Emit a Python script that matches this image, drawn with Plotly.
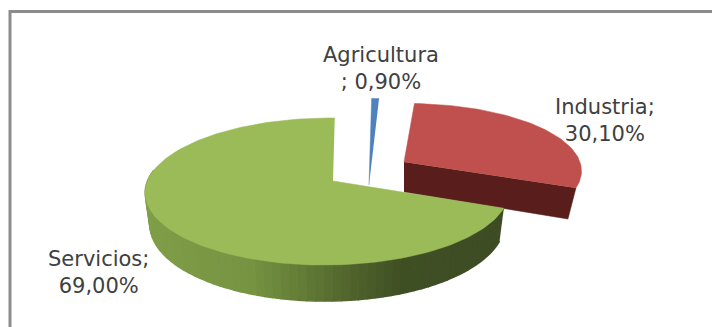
import numpy as np
import plotly.graph_objects as go

categories = ["Agricultura", "Industria", "Servicios"]
values = [0.9, 30.1, 69.0]
label_texts = ["Agricultura<br>; 0,90%", "Industria;<br>30,10%", "Servicios;<br>69,00%"]

W, H = 712, 327
top_colors = ["#4F81BD", "#C0504D", "#9BBB59"]
red_face = "#591E1C"
# per-slice projection of the tilted disc: apex x, y, a, b, k, j, shear
proj = [
    dict(cx=369, cy=185, a=150, b=99, k=0.143, j=0, s=3),
    dict(cx=404, cy=162, a=176, b=67, k=0.143, j=0, s=2),
    dict(cx=333, cy=181, a=180, b=72, k=0.143, j=0.03, s=2),
]
label_pos = [(381, 68), (605, 120), (98, 272)]
wall_stops_x = [150, 250, 300, 340, 400, 507]
wall_stops_rgb = [(128, 158, 72), (118, 148, 66), (100, 125, 55), (85, 105, 47), (64, 80, 36), (62, 76, 36)]


def pt(theta, p):
    u, v = np.sin(theta), np.cos(theta)
    w = 1 + p["k"] * v + p["j"] * u
    return p["cx"] + (p["a"] * u + p["s"] * v) / w, p["cy"] - p["b"] * v / w


def wall(theta, p):
    x, y = pt(theta, p)
    return p["cx"] + (x - p["cx"]) * 0.975, y + 31 - 5 * np.cos(theta)


def poly(xs, ys, color, lw=0.5):
    return go.Scatter(x=list(xs), y=list(ys), mode="lines", fill="toself", fillcolor=color,
                      line=dict(color=color, width=lw), hoverinfo="skip", showlegend=False)


edges = np.cumsum([0] + values) / sum(values) * 2 * np.pi
fig = go.Figure()

# Industria: cut face then top
p = proj[1]
t0, t1 = edges[1], edges[2]
ex, ey = pt(t1, p)
fig.add_trace(poly([p["cx"], ex, ex - 8, p["cx"]], [p["cy"], ey, ey + 31, p["cy"] + 30], red_face))
th = np.linspace(t0, t1, 60)
xs, ys = pt(th, p)
fig.add_trace(poly([p["cx"], *xs], [p["cy"], *ys], top_colors[1]))

# Agricultura
p = proj[0]
th = np.linspace(edges[0], edges[1], 6)
xs, ys = pt(th, p)
fig.add_trace(poly([p["cx"], *xs], [p["cy"], *ys], top_colors[0]))

# Servicios: graded wall then top
p = proj[2]
wall_th = np.linspace(edges[2], 1.5 * np.pi + 0.15, 70)
for a, b in zip(wall_th[:-1], wall_th[1:]):
    ax, ay = pt(a, p)
    bx, by = pt(b, p)
    cx_, cy_ = wall(b, p)
    dx_, dy_ = wall(a, p)
    mid = (ax + bx) / 2
    rgb = [np.interp(mid, wall_stops_x, [c[i] for c in wall_stops_rgb]) for i in range(3)]
    col = "rgb(%d,%d,%d)" % tuple(rgb)
    fig.add_trace(poly([ax, bx, cx_, dx_], [ay, by, cy_, dy_], col, lw=1.5))
th = np.linspace(edges[2], edges[3], 160)
xs, ys = pt(th, p)
fig.add_trace(poly([p["cx"], *xs], [p["cy"], *ys], top_colors[2]))

for txt, (lx, ly) in zip(label_texts, label_pos):
    fig.add_annotation(x=lx, y=ly, xref="x", yref="y", text=txt, showarrow=False, align="center",
                       font=dict(family="DejaVu Sans", size=21, color="#404040"))

# chart frame
frame = dict(color="#8c8c8c", width=3)
fig.add_shape(type="line", x0=10, x1=712, y0=11.5, y1=11.5, xref="x", yref="y", line=frame)
fig.add_shape(type="line", x0=10, x1=10, y0=10, y1=327, xref="x", yref="y", line=frame)

fig.update_layout(width=W, height=H, margin=dict(l=0, r=0, t=0, b=0), paper_bgcolor="white",
                  plot_bgcolor="white", showlegend=False,
                  xaxis=dict(range=[0, W], visible=False, fixedrange=True),
                  yaxis=dict(range=[H, 0], visible=False, fixedrange=True))
fig.write_html("out.html", config={"displayModeBar": False},
               post_script="document.body.style.margin='0';document.documentElement.style.overflow='hidden';")
